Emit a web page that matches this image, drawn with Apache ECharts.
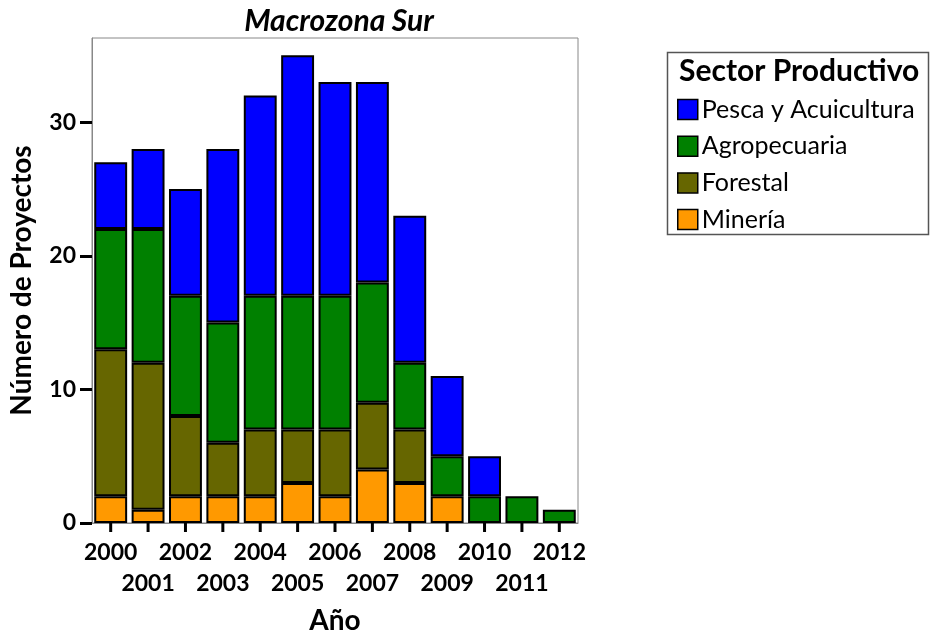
<!DOCTYPE html>
<html>
<head>
    <meta charset="utf-8">
    <title>Macrozona Sur</title>
    <script src="https://cdn.jsdelivr.net/npm/echarts@6/dist/echarts.min.js"></script>
</head>
<body style="margin:0;background:#fff;">
<div id="chart" style="width:932px;height:640px;"></div>

<script>
    // años
    var years = ['2000','2001','2002','2003','2004','2005','2006','2007','2008','2009','2010','2011','2012'];
    // proyectos por sector (apilados de abajo hacia arriba)
    var mineria      = [2, 1, 2, 2, 2, 3, 2, 4, 3, 2, 0, 0, 0];
    var forestal     = [11, 11, 6, 4, 5, 4, 5, 5, 4, 0, 0, 0, 0];
    var agropecuaria = [9, 10, 9, 9, 10, 10, 10, 9, 5, 3, 2, 2, 1];
    var pesca        = [5, 6, 8, 13, 15, 18, 16, 15, 11, 6, 3, 0, 0];
    var yTicks = [0, 10, 20, 30];
    var legendNames = ['Pesca y Acuicultura', 'Agropecuaria', 'Forestal', 'Minería'];

    var fontName = 'Lato';

    function serie(name, data, color){
        return {
            name: name,
            type: 'bar',
            stack: 'total',
            // los ceros no se dibujan (sin borde suelto)
            data: data.map(function(v){ return v === 0 ? '-' : v; }),
            barCategoryGap: '12%',
            itemStyle: {color: color, borderColor: '#000', borderWidth: 2},
            emphasis: {disabled: true}
        };
    }

    // una leyenda por fila para fijar el espaciado
    var legends = legendNames.map(function(n, i){
        return {
            orient: 'vertical',
            left: 672, top: 92 + i * 36.7,
            icon: 'rect',
            itemWidth: 20, itemHeight: 20,
            data: [n],
            textStyle: {fontFamily: fontName, fontSize: 25, color: '#000', padding: [0, 0, 0, -1]},
            itemStyle: {borderColor: '#000', borderWidth: 1.5},
            selectedMode: false
        };
    });

    var chart = echarts.init(document.getElementById('chart'));
    chart.setOption({
        animation: false,
        title: {
            text: 'Macrozona Sur',
            left: 334,
            textAlign: 'center',
            top: 1,
            textStyle: {fontFamily: fontName, fontSize: 30, fontStyle: 'italic', fontWeight: 'bold', color: '#000'}
        },
        grid: {
            left: 90, right: 354, top: 38, bottom: 116,
            show: true, borderColor: '#888', borderWidth: 1
        },
        legend: legends,
        graphic: [
            {type: 'rect', shape: {x: 667.5, y: 52.5, width: 261, height: 182},
             style: {fill: 'none', stroke: '#555', lineWidth: 1.5}},
            {type: 'text', x: 679, y: 71,
             style: {text: 'Sector Productivo', fill: '#000', font: 'bold 30px ' + fontName, verticalAlign: 'middle'}}
        ],
        xAxis: {
            type: 'category',
            data: years,
            name: 'Año',
            nameLocation: 'middle',
            nameGap: 84,
            nameTextStyle: {fontFamily: fontName, fontSize: 28, fontWeight: 'bold', color: '#000'},
            axisLine: {show: true, lineStyle: {color: '#888', width: 1}},
            axisTick: {show: false},
            axisLabel: {
                interval: 0,
                margin: 14,
                fontFamily: fontName, fontSize: 23, fontWeight: 'bold', color: '#000',
                lineHeight: 31,
                formatter: function(v, i){ return i % 2 ? '\n' + v : v; }
            }
        },
        yAxis: {
            type: 'value',
            min: 0, max: 36.3,
            name: 'Número de Proyectos',
            nameLocation: 'middle',
            nameGap: 56,
            nameTextStyle: {fontFamily: fontName, fontSize: 28, fontWeight: 'bold', color: '#000'},
            splitLine: {show: false},
            axisLine: {show: true, lineStyle: {color: '#888', width: 1}},
            axisTick: {show: true, customValues: yTicks, length: 12, lineStyle: {color: '#000', width: 3}},
            axisLabel: {customValues: yTicks, margin: 16, fontFamily: fontName, fontSize: 23, fontWeight: 'bold', color: '#000'}
        },
        series: [
            serie('Minería', mineria, '#ff9900'),
            serie('Forestal', forestal, '#666600'),
            serie('Agropecuaria', agropecuaria, '#008000'),
            serie('Pesca y Acuicultura', pesca, '#0000ff'),
            {
                // marcas bajo cada año (arrancan en el borde inferior de la barra)
                type: 'custom',
                clip: false,
                silent: true,
                z: 10,
                data: years.map(function(y){ return [y, 0]; }),
                encode: {x: 0, y: 1},
                renderItem: function(params, api){
                    var p = api.coord([api.value(0), 0]);
                    return {
                        type: 'rect',
                        shape: {x: p[0] - 1.5, y: p[1] - 2, width: 3, height: 11},
                        style: {fill: '#000'}
                    };
                }
            }
        ]
    });
</script>
</body>
</html>
